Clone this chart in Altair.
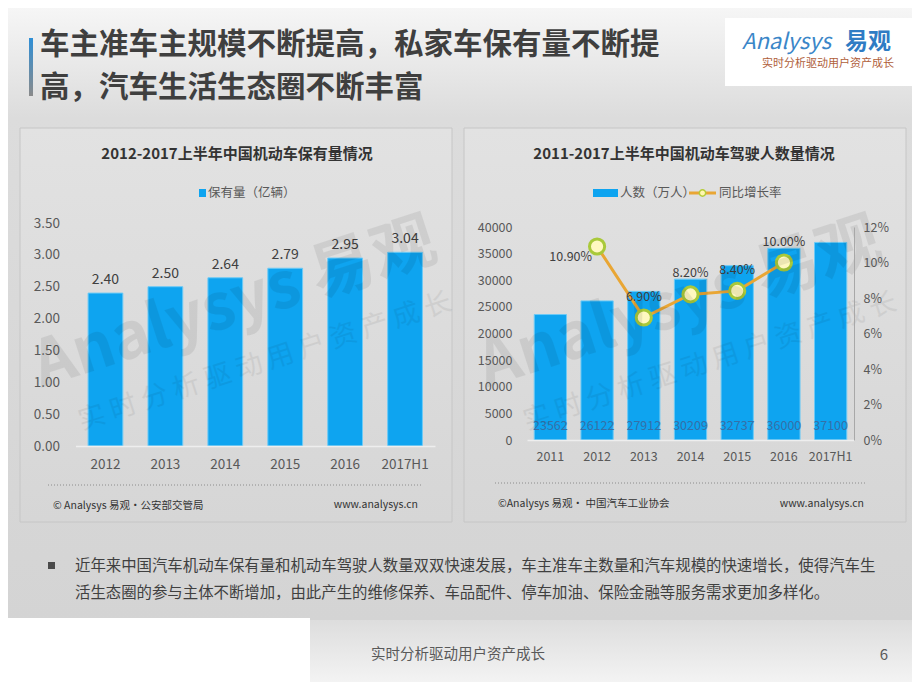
import altair as alt
import pandas as pd

# ---------------- data ----------------
stock_years = ["2012", "2013", "2014", "2015", "2016", "2017H1"]
stock_values = [2.40, 2.50, 2.64, 2.79, 2.95, 3.04]

driver_years = ["2011", "2012", "2013", "2014", "2015", "2016", "2017H1"]
driver_values = [23562, 26122, 27912, 30209, 32737, 36000, 37100]

growth_years = ["2012", "2013", "2014", "2015", "2016"]
growth_rates = [0.109, 0.069, 0.082, 0.084, 0.100]

stock_ticks = [0, 0.5, 1.0, 1.5, 2.0, 2.5, 3.0, 3.5]
driver_ticks = [0, 5000, 10000, 15000, 20000, 25000, 30000, 35000, 40000]
rate_ticks = [0, 0.02, 0.04, 0.06, 0.08, 0.10, 0.12]

title_lines = ["车主准车主规模不断提高，私家车保有量不断提", "高，汽车生活生态圈不断丰富"]
left_title = "2012-2017上半年中国机动车保有量情况"
right_title = "2011-2017上半年中国机动车驾驶人数量情况"
left_legend = "保有量（亿辆）"
right_legend = ["人数（万人）", "同比增长率"]
left_source = "© Analysys 易观·公安部交管局"
right_source = "©Analysys 易观· 中国汽车工业协会"
site = "www.analysys.cn"
body_lines = [
    "近年来中国汽车机动车保有量和机动车驾驶人数量双双快速发展，车主准车主数量和汽车规模的快速增长，使得汽车生",
    "活生态圈的参与主体不断增加，由此产生的维修保养、车品配件、停车加油、保险金融等服务需求更加多样化。",
]
slogan = "实时分析驱动用户资产成长"
logo_word = "Analysys"
logo_cn = "易观"
page_no = "6"

# ---------------- layout helpers ----------------
W, H = 904, 674
FONT = "Noto Sans CJK SC"
BLUE = "#0ea4f0"
ONE = alt.Data(values=[{"k": 1}])


def px(v):
    return v - 8


def grad(c1, c2, vertical=True):
    return {"gradient": "linear", "x1": 0, "y1": 0,
            "x2": 0 if vertical else 1, "y2": 1 if vertical else 0,
            "stops": [{"offset": 0, "color": c1}, {"offset": 1, "color": c2}]}


def rect(x1, y1, x2, y2, fill, **kw):
    return alt.Chart(ONE).mark_rect(fill=fill, **kw).encode(
        x=alt.value(px(x1)), x2=alt.value(px(x2)),
        y=alt.value(px(y1)), y2=alt.value(px(y2)))


def txt(s, x, y, size, color="#404040", weight="normal", align="left",
        baseline="middle", **kw):
    return alt.Chart(alt.Data(values=[{"t": s}])).mark_text(
        font=FONT, fontSize=size, color=color, fontWeight=weight,
        align=align, baseline=baseline, **kw).encode(
        text="t:N", x=alt.value(px(x)), y=alt.value(px(y)))


def hrule(x1, x2, y, color, width=1, dash=None):
    kw = {"strokeDash": dash} if dash else {}
    return alt.Chart(ONE).mark_rule(color=color, strokeWidth=width, **kw).encode(
        x=alt.value(px(x1)), x2=alt.value(px(x2)), y=alt.value(px(y)))


# ---------------- background / decoration ----------------
deco = [
    rect(0, 0, 920, 3, "#9c9c9c"),
    rect(0, 3, 920, 118, grad("#f7f7f7", "#dcdcdc")),
    rect(0, 118, 920, 620, grad("#dcdcdc", "#d4d4d4")),
    rect(0, 620, 920, 690, grad("#dddddd", "#f6f6f6")),
    rect(0, 618, 310, 690, "#ffffff"),
    rect(29, 38, 33, 96, grad("#2f8fd6", "#8a8a8a")),
    rect(725, 18, 912, 86, "#ffffff"),
    rect(20, 128, 452, 522, grad("#e2e2e2", "#d6d6d6"), stroke="#c6c6c6", strokeWidth=1),
    rect(464, 128, 906, 522, grad("#e2e2e2", "#d6d6d6"), stroke="#c6c6c6", strokeWidth=1),
]

texts = [
    txt(title_lines[0], 40, 45, 29.5, "#3f3f3f", "bold"),
    txt(title_lines[1], 40, 88, 29.5, "#3f3f3f", "bold"),
    txt(logo_word, 742, 42, 22, "#3a86c8", fontStyle="italic"),
    txt(logo_cn, 845, 42, 23, "#2f7cc4", "bold"),
    txt(slogan, 828, 64, 11, "#b0603a", align="center"),
    # watermarks
    txt("Analysys 易观", 235, 305, 64, "#000000", "bold", align="center", angle=342, opacity=0.07),
    txt("实 时 分 析 驱 动 用 户 资 产 成 长", 265, 362, 27, "#000000", align="center", angle=342, opacity=0.06),
    txt("Analysys 易观", 680, 305, 64, "#000000", "bold", align="center", angle=342, opacity=0.07),
    txt("实 时 分 析 驱 动 用 户 资 产 成 长", 710, 362, 27, "#000000", align="center", angle=342, opacity=0.06),
    # panel titles / legends / sources
    txt(left_title, 237, 154, 15, "#333333", "bold", align="center"),
    txt(right_title, 684, 154, 15, "#333333", "bold", align="center"),
    rect(199, 189, 206, 197, BLUE),
    txt(left_legend, 208, 193, 12.5, "#595959"),
    rect(593, 189, 618, 197, BLUE),
    txt(right_legend[0], 620, 193, 12.5, "#595959"),
    hrule(689, 716, 193, "#e9a634", 3),
    alt.Chart(ONE).mark_circle(size=40, fill="#fff7b0", stroke="#b5cc3a", strokeWidth=1.5, opacity=1).encode(
        x=alt.value(px(702.5)), y=alt.value(px(193))),
    txt(right_legend[1], 719, 193, 12.5, "#595959"),
    hrule(48, 422, 485, "#8c8c8c", 1, [1, 2]),
    hrule(495, 867, 483, "#8c8c8c", 1, [1, 2]),
    txt(left_source, 53, 506, 10.5, "#333333"),
    txt(site, 418, 505, 10.5, "#333333", align="right"),
    txt(right_source, 498, 504, 10.5, "#333333"),
    txt(site, 864, 504, 10.5, "#333333", align="right"),
    # body text
    rect(48, 562, 55, 569, "#4a4a4a"),
    txt(body_lines[0], 75, 566, 15.4, "#404040"),
    txt(body_lines[1], 75, 593, 15.4, "#404040"),
    txt(slogan, 458, 655, 14.5, "#595959", align="center"),
    txt(page_no, 884, 655, 15, "#595959", align="center"),
]

# ---------------- left chart ----------------
axis_common = dict(title=None, ticks=False, tickSize=0, grid=False, zindex=2,
                   labelFont=FONT, labelColor="#595959")

stock_df = pd.DataFrame({"year": stock_years, "value": stock_values})
xL = alt.X("year:N", sort=stock_years,
           scale=alt.Scale(range=[px(75.5), px(435)], paddingInner=0.42, paddingOuter=0.21),
           axis=alt.Axis(orient="bottom", offset=px(446) - H, labelAngle=0,
                         domainColor="#eeeeee", domainWidth=1.5, labelPadding=11,
                         labelFontSize=13.5, **axis_common))
yL = alt.Y("value:Q",
           scale=alt.Scale(domain=[0, 3.5], range=[px(446), px(223)], nice=False),
           axis=alt.Axis(orient="left", offset=-px(75.5), values=stock_ticks, format=".2f",
                         domain=False, labelPadding=16, labelFontSize=13.5, **axis_common))
left_base = alt.Chart(stock_df).encode(x=xL, y=yL)
left_bars = left_base.mark_bar(color=BLUE, stroke="#6ccaf6", strokeWidth=1)
left_lbls = left_base.mark_text(font=FONT, fontSize=14, color="#404040", baseline="bottom", dy=-6).encode(
    text=alt.Text("value:Q", format=".2f"))
left_chart = alt.layer(left_bars, left_lbls)

# ---------------- right chart ----------------
drv_df = pd.DataFrame({"year": driver_years, "count": driver_values})
gr_df = pd.DataFrame({"year": growth_years, "rate": growth_rates})

xR = alt.X("year:N", sort=driver_years,
           scale=alt.Scale(range=[px(527), px(854)], paddingInner=0.31, paddingOuter=0.155),
           axis=alt.Axis(orient="bottom", offset=px(440) - H, labelAngle=0,
                         domainColor="#eeeeee", domainWidth=1.5, labelPadding=10,
                         labelFontSize=12.5, **axis_common))
yR = alt.Y("count:Q",
           scale=alt.Scale(domain=[0, 40000], range=[px(440), px(227)], nice=False),
           axis=alt.Axis(orient="left", offset=-px(527), values=driver_ticks, format="d",
                         domain=False, labelPadding=15, labelFontSize=12.5, **axis_common))
yRate = alt.Y("rate:Q",
              scale=alt.Scale(domain=[0, 0.12], range=[px(440), px(227)], nice=False),
              axis=alt.Axis(orient="right", offset=px(854) - W, values=rate_ticks, format=".0%",
                            domain=True, domainColor="#a8a8a8", labelPadding=9,
                            labelFontSize=12.5, **axis_common))

r_bars = alt.Chart(drv_df).mark_bar(color=BLUE, stroke="#6ccaf6", strokeWidth=1).encode(x=xR, y=yR)
r_vals = alt.Chart(drv_df).mark_text(font=FONT, fontSize=12.5, color="#3470a8", dy=-14).encode(
    x=alt.X("year:N", sort=driver_years), y=alt.Y(datum=0), text="count:Q")
bars_layer = alt.layer(r_bars, r_vals)

xR2 = alt.X("year:N", sort=driver_years)
r_line = alt.Chart(gr_df).mark_line(color="#e9a634", strokeWidth=3).encode(x=xR2, y=yRate)
r_pts = alt.Chart(gr_df).mark_circle(size=230, fill="#fff8c0", stroke="#a9c93a", strokeWidth=3, opacity=1).encode(
    x=xR2, y=yRate)
r_lbl_first = alt.Chart(gr_df).transform_filter(alt.datum.year == growth_years[0]).mark_text(
    font=FONT, fontSize=12.5, color="#404040", align="right", dx=-5, dy=10).encode(
    x=xR2, y=yRate, text=alt.Text("rate:Q", format=".2%"))
r_lbl_rest = alt.Chart(gr_df).transform_filter(alt.datum.year != growth_years[0]).mark_text(
    font=FONT, fontSize=12.5, color="#404040", dy=-21).encode(
    x=xR2, y=yRate, text=alt.Text("rate:Q", format=".2%"))
line_layer = alt.layer(r_line, r_pts, r_lbl_first, r_lbl_rest)

right_chart = alt.layer(bars_layer, line_layer).resolve_scale(y="independent")

chart = alt.layer(*deco, left_chart, right_chart, *texts).resolve_scale(
    x="independent", y="independent").properties(
    width=W, height=H, padding=0, background="#d6d6d6",
    autosize=alt.AutoSizeParams(type="none")).configure_view(stroke=None)

chart.save("out.html", embed_options={"renderer": "svg", "actions": False})
